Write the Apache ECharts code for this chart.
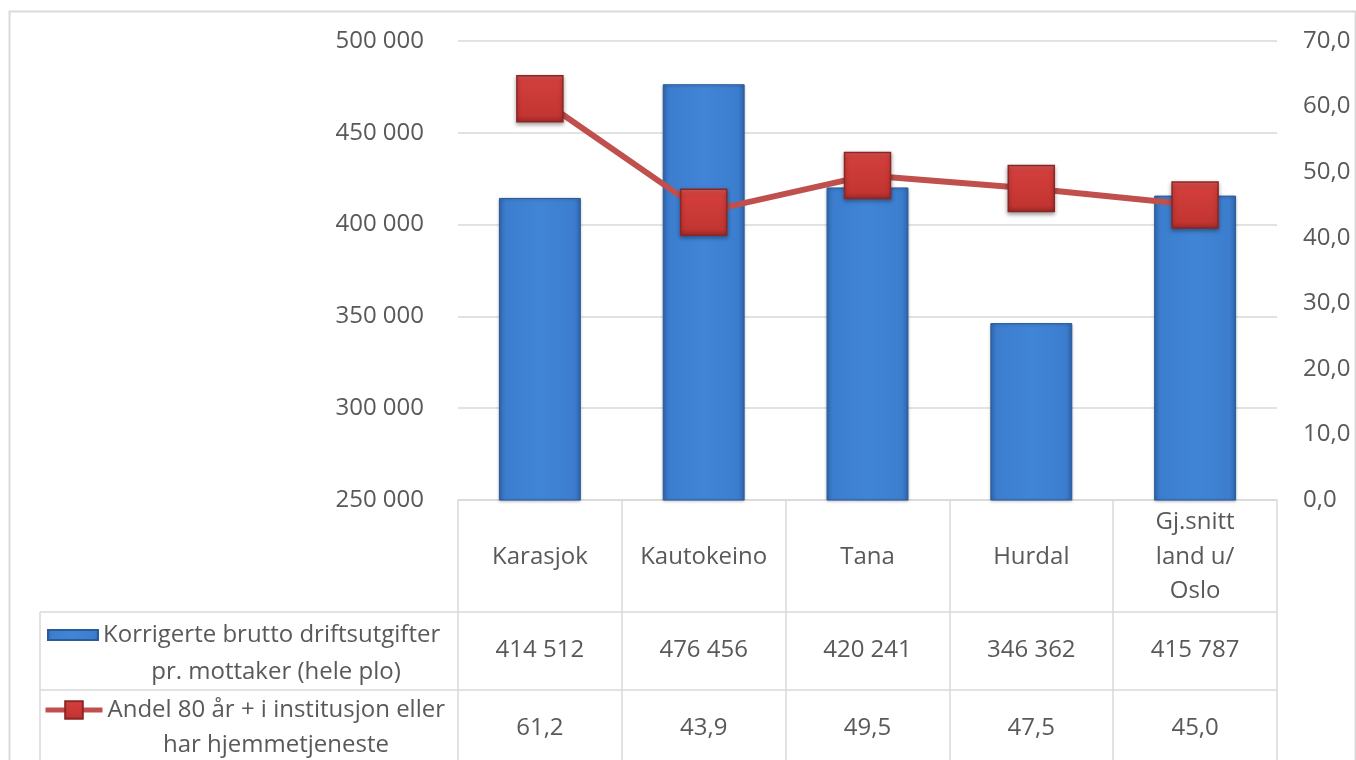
<!DOCTYPE html>
<html>
<head>
<meta charset="utf-8">
<script src="https://cdn.jsdelivr.net/npm/echarts@6/dist/echarts.min.js"></script>
<style>
html,body{margin:0;padding:0;background:#fff;}
#c{width:1356px;height:760px;}
</style>
</head>
<body>
<div id="c"></div>
<script>
var categories = ['Karasjok', 'Kautokeino', 'Tana', 'Hurdal', 'Gj.snitt\nland u/\nOslo'];
var costValues = [414512, 476456, 420241, 346362, 415787];
var shareValues = [61.2, 43.9, 49.5, 47.5, 45.0];
var seriesNames = ['Korrigerte brutto driftsutgifter pr. mottaker (hele plo)', 'Andel 80 år + i institusjon eller har hjemmetjeneste'];
var legendLine1 = ['Korrigerte brutto driftsutgifter', 'Andel 80 år + i institusjon eller'];
var legendLine2 = ['pr. mottaker (hele plo)', 'har hjemmetjeneste'];
var leftTicks = {min: 250000, max: 500000, interval: 50000};
var rightTicks = {min: 0, max: 70, interval: 10};

var FONT = 'Open Sans';
var TXT = '#595959';
var GRIDC = '#d9d9d9';

function thousands(n) { return String(n).replace(/\B(?=(\d{3})+(?!\d))/g, ' '); }
function dec1(n) { return n.toFixed(1).replace('.', ','); }

var chart = echarts.init(document.getElementById('c'), null, {renderer: 'canvas'});

var barColor = new echarts.graphic.LinearGradient(0, 0, 1, 0, [
  {offset: 0, color: '#2f68b0'},
  {offset: 0.08, color: '#3c7dce'},
  {offset: 0.5, color: '#4185d6'},
  {offset: 0.92, color: '#3c7dce'},
  {offset: 1, color: '#2f68b0'}
]);
var markerColor = new echarts.graphic.LinearGradient(0, 0, 0, 1, [
  {offset: 0, color: '#e05a57'},
  {offset: 0.15, color: '#d23e3b'},
  {offset: 0.85, color: '#c33532'},
  {offset: 1, color: '#9e2a28'}
]);

var textBase = {fontFamily: FONT, fontSize: 24, color: TXT};

var option = {
  backgroundColor: '#fff',
  animation: false,
  grid: {left: 458, right: 79, top: 41, bottom: 260, containLabel: false},
  legend: [
    {
      data: [{name: seriesNames[0], icon: 'rect'}], left: 47, top: 620, padding: 0,
      itemWidth: 50, itemHeight: 10, selectedMode: false,
      formatter: function () { return legendLine1[0]; },
      textStyle: Object.assign({lineHeight: 30}, textBase)
    },
    {
      data: [seriesNames[1]], left: 43, top: 695, padding: 0,
      itemWidth: 57, itemHeight: 22, selectedMode: false,
      lineStyle: {width: 5, color: '#c0504d'},
      formatter: function () { return legendLine1[1]; },
      textStyle: Object.assign({lineHeight: 30}, textBase)
    }
  ],
  xAxis: [
    {
      type: 'category', data: categories, position: 'bottom', offset: 0,
      boundaryGap: true,
      axisLine: {show: true, lineStyle: {color: GRIDC, width: 1.5}},
      axisTick: {show: true, length: 262, alignWithLabel: false, lineStyle: {color: GRIDC, width: 1.5}},
      axisLabel: Object.assign({interval: 0, margin: 57, verticalAlign: 'middle', lineHeight: 34.5}, textBase)
    },
    {
      type: 'category', data: categories, position: 'bottom', offset: 0,
      axisLine: {show: false}, axisTick: {show: false},
      axisLabel: Object.assign({interval: 0, margin: 150, verticalAlign: 'middle',
        formatter: function (v, i) { return thousands(costValues[i]); }}, textBase)
    },
    {
      type: 'category', data: categories, position: 'bottom', offset: 0,
      axisLine: {show: false}, axisTick: {show: false},
      axisLabel: Object.assign({interval: 0, margin: 228, verticalAlign: 'middle',
        formatter: function (v, i) { return dec1(shareValues[i]); }}, textBase)
    }
  ],
  yAxis: [
    {
      type: 'value', position: 'left', min: leftTicks.min, max: leftTicks.max, interval: leftTicks.interval,
      axisLine: {show: false}, axisTick: {show: false},
      splitLine: {show: true, lineStyle: {color: GRIDC, width: 1.5}},
      axisLabel: Object.assign({margin: 34, formatter: function (v) { return thousands(v); }}, textBase)
    },
    {
      type: 'value', position: 'right', min: rightTicks.min, max: rightTicks.max, interval: rightTicks.interval,
      axisLine: {show: false}, axisTick: {show: false},
      splitLine: {show: false},
      axisLabel: Object.assign({margin: 26, formatter: function (v) { return dec1(v); }}, textBase)
    }
  ],
  series: [
    {
      name: seriesNames[0], type: 'bar', xAxisIndex: 0, yAxisIndex: 0,
      data: costValues, barWidth: '50%',
      itemStyle: {color: barColor, borderColor: '#2b5a98', borderWidth: 1,
        shadowColor: 'rgba(0,0,0,0.25)', shadowBlur: 3, shadowOffsetY: 1}
    },
    {
      name: seriesNames[1], type: 'line', xAxisIndex: 0, yAxisIndex: 1,
      data: shareValues, symbol: 'rect', symbolSize: 46, z: 5,
      lineStyle: {color: '#c0504d', width: 6},
      itemStyle: {color: markerColor, borderColor: '#8c2624', borderWidth: 1.5,
        shadowColor: 'rgba(0,0,0,0.35)', shadowBlur: 4, shadowOffsetY: 2}
    }
  ],
  graphic: [
    {type: 'rect', shape: {x: 9.5, y: 11.5, width: 1346, height: 760}, style: {fill: 'none', stroke: GRIDC, lineWidth: 2}, silent: true},
    {type: 'line', shape: {x1: 40, y1: 612, x2: 1277, y2: 612}, style: {stroke: GRIDC, lineWidth: 1.5}, silent: true},
    {type: 'line', shape: {x1: 40, y1: 690, x2: 1277, y2: 690}, style: {stroke: GRIDC, lineWidth: 1.5}, silent: true},
    {type: 'line', shape: {x1: 40, y1: 612, x2: 40, y2: 760}, style: {stroke: GRIDC, lineWidth: 1.5}, silent: true},
    {type: 'text', x: 276, y: 672, style: {text: legendLine2[0], font: '24px ' + FONT, fill: TXT, textAlign: 'center', textVerticalAlign: 'middle'}, silent: true},
    {type: 'text', x: 276, y: 745, style: {text: legendLine2[1], font: '24px ' + FONT, fill: TXT, textAlign: 'center', textVerticalAlign: 'middle'}, silent: true}
  ]
};
chart.setOption(option);
</script>
</body>
</html>
